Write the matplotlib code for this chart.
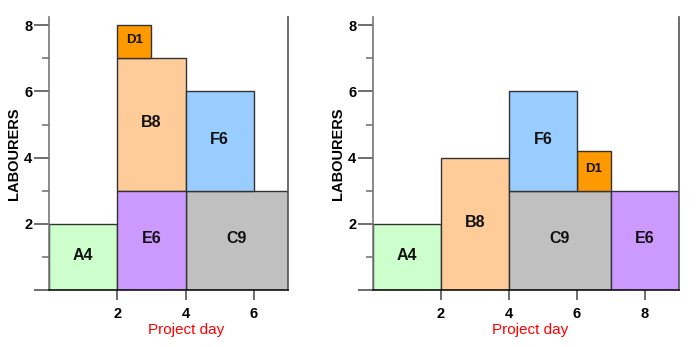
import matplotlib.pyplot as plt
from matplotlib.patches import Rectangle

plt.rcParams['font.family'] = ['Liberation Sans', 'DejaVu Sans']

# activity names and colours (shared by both charts)
names = ['A4', 'B8', 'C9', 'D1', 'E6', 'F6']
colors = ['#CCFFCC', '#FFCC99', '#C0C0C0', '#FF9900', '#CC99FF', '#99CCFF']

# left chart: start day, duration, labourers below, labourers used
left_start = [0, 2, 4, 2, 2, 4]
left_dur = [2, 2, 3, 1, 2, 2]
left_base = [0, 3, 0, 7, 0, 3]
left_lab = [2, 4, 3, 1, 3, 3]

# right chart (levelled)
right_start = [0, 2, 4, 6, 7, 4]
right_dur = [2, 2, 3, 1, 2, 2]
right_base = [0, 0, 0, 3, 0, 3]
right_lab = [2, 4, 3, 1.2, 3, 3]

fig = plt.figure(figsize=(7, 3.47), dpi=100)
ax1 = fig.add_axes([49 / 700, 57 / 347, 239 / 700, 273 / 347])
ax2 = fig.add_axes([373 / 700, 57 / 347, 306 / 700, 273 / 347])


def draw(ax, start, dur, base, lab, xmax, xticks, label_x):
    for n, c, s, d, b, h in zip(names, colors, start, dur, base, lab):
        ax.add_patch(Rectangle((s, b), d, h, facecolor=c, edgecolor='#333333',
                               linewidth=1))
        fs = 9.5 if n == 'D1' else 11.5
        ax.text(s + d / 2, b + h / 2 + 0.05, n, ha='center', va='center',
                fontsize=fs, fontweight='bold', color='#111111')
    ax.set_xlim(0, xmax)
    ax.set_ylim(0, 8.25)
    ax.set_xticks(xticks)
    ax.set_yticks([0, 2, 4, 6, 8])
    ax.set_yticklabels(['', '2', '4', '6', '8'])
    ax.set_yticks([1, 3, 5, 7], minor=True)
    ax.tick_params(axis='both', which='major', direction='out', color='#555555',
                   labelsize=10.5, width=1.2)
    ax.tick_params(axis='y', which='major', length=11, pad=1)
    ax.tick_params(axis='x', which='major', length=7, pad=5)
    ax.tick_params(axis='y', which='minor', length=5, color='#777777', width=1.2)
    for lbl in ax.get_xticklabels() + ax.get_yticklabels():
        lbl.set_fontweight('bold')
    ax.spines['top'].set_visible(False)
    ax.spines['left'].set_color('#777777')
    ax.spines['right'].set_color('#555555')
    ax.spines['bottom'].set_color('#111111')
    for sp in ax.spines.values():
        sp.set_linewidth(1.2)
    ax.set_ylabel('LABOURERS', fontsize=10.5, fontweight='bold', labelpad=2)
    ax.set_xlabel('Project day', fontsize=11, color='#FF0000', labelpad=0)
    ax.xaxis.set_label_coords(label_x, -0.12)


draw(ax1, left_start, left_dur, left_base, left_lab, 7, [2, 4, 6], 0.573)
draw(ax2, right_start, right_dur, right_base, right_lab, 9, [2, 4, 6, 8], 0.513)

plt.savefig('out.png', dpi=100)
